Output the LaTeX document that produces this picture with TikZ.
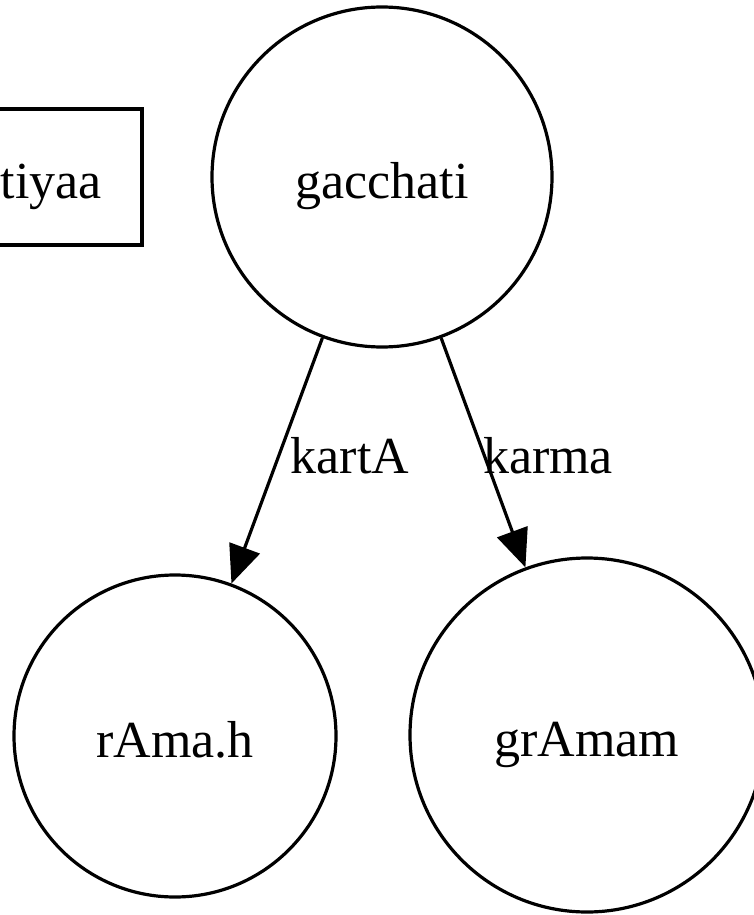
\documentclass[tikz,border=0pt]{standalone}
\usepackage{fontspec}
\setmainfont{Liberation Serif}
\usetikzlibrary{arrows.meta}
\begin{document}
\begin{tikzpicture}[x=1pt,y=-1pt,
  every node/.style={font=\fontsize{52pt}{60pt}\selectfont, text height=50pt, text depth=8pt, inner sep=0pt},
  circ/.style={draw, circle, line width=3.2pt},
  boxnode/.style={draw, rectangle, line width=3.2pt},
  edge/.style={line width=3.2pt, -{Triangle[length=38pt,width=32pt]}},
  elabel/.style={anchor=base, text height=, text depth=}]
\useasboundingbox (0,0) rectangle (754,915);
\node[circ, minimum size=340pt] (gacchati) at (382,177) {gacchati};
\node[boxnode, minimum height=136pt, text width=122pt, inner xsep=40pt, align=right] (tiyaa) at (41,177) {tiyaa};
\node[circ, minimum size=322pt] (rama) at (175,736) {rAma.h};
\node[circ, minimum size=354pt] (gramam) at (587,735) {grAmam};
\draw[edge] (gacchati) -- (rama);
\draw[edge] (gacchati) -- (gramam);
\node[elabel] (lkarta) at (350,473) {kartA};
\node[elabel] (lkarma) at (548,473) {karma};
\end{tikzpicture}
\end{document}
